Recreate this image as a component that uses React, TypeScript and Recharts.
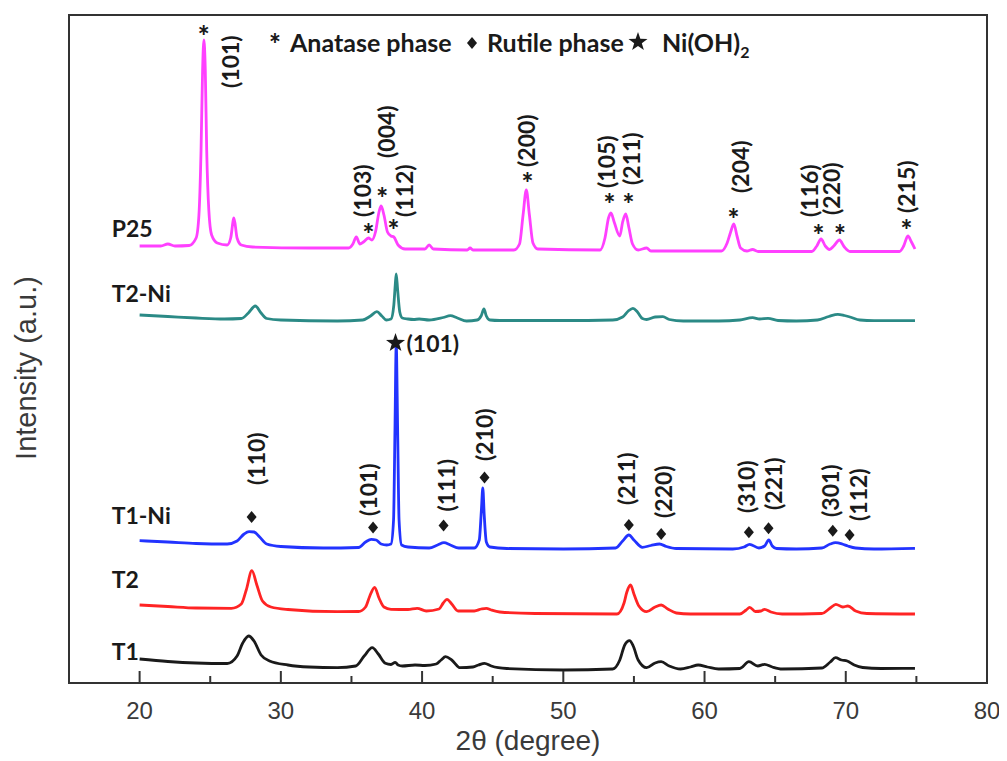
import React from 'react';
import { ComposedChart, Line, Scatter, XAxis, YAxis, ReferenceArea } from 'recharts';

type Pt = [number, number];
type Tag = [number, number, string];

// XRD patterns: [2θ (degree), intensity (a.u., offset per sample)]
const p25: Pt[] = [
  [20.0, 437], [21.5, 437], [22.0, 439], [22.5, 437], [23.5, 437.5], [24.0, 445], [24.2, 468],
  [24.35, 533], [24.46, 613], [24.55, 643], [24.65, 613], [24.75, 533], [24.9, 473], [25.1, 448],
  [25.5, 440], [26.2, 438], [26.45, 445], [26.68, 465], [26.9, 445], [27.2, 438], [28.0, 436],
  [32.0, 435], [34.8, 435], [35.1, 439], [35.34, 446], [35.6, 439], [35.85, 441], [36.2, 445],
  [36.45, 443], [36.7, 451], [36.95, 471], [37.1, 477], [37.3, 468], [37.55, 451], [37.8, 447],
  [38.0, 446], [38.3, 438], [38.8, 434], [40.2, 434], [40.5, 438], [40.8, 434], [43.2, 433],
  [43.4, 435], [43.6, 433], [46.5, 433], [46.9, 439], [47.15, 468], [47.38, 493], [47.6, 468],
  [47.85, 440], [48.2, 434], [52.6, 433], [52.95, 445], [53.2, 465], [53.37, 470], [53.6, 461],
  [54.0, 447], [54.2, 461], [54.42, 469], [54.65, 455], [54.9, 439], [55.3, 433], [55.9, 435],
  [56.2, 432], [61.2, 432], [61.6, 440], [61.85, 451], [62.07, 459], [62.3, 447], [62.55, 435],
  [63.0, 432], [63.4, 433.5], [63.8, 431.5], [67.6, 431.5], [67.95, 437], [68.25, 444],
  [68.55, 437], [68.85, 433.5], [69.15, 437], [69.55, 443], [69.9, 436], [70.3, 431.5],
  [73.8, 431.5], [74.1, 437], [74.4, 447], [74.65, 441], [74.9, 434],
];

const t2Ni: Pt[] = [
  [20, 368], [22, 366.5], [24, 365], [26, 364], [27.2, 364.5], [27.7, 370], [28.19, 377],
  [28.6, 370], [29.0, 364.5], [30, 363], [34, 362], [35.8, 363], [36.35, 367], [36.8, 371.3],
  [37.15, 367], [37.47, 363], [37.8, 364], [38.0, 378], [38.1, 398], [38.17, 409], [38.27, 393],
  [38.42, 371], [38.6, 365], [39.0, 364], [39.4, 363.5], [39.8, 364], [40.5, 363], [41.5, 365.5],
  [42.0, 367.3], [42.5, 365], [43.15, 362], [43.9, 363], [44.18, 367], [44.38, 374], [44.55, 367],
  [44.8, 363], [45.5, 362.5], [50, 362.5], [53.5, 363], [54.2, 366], [54.6, 372], [54.93, 374.7],
  [55.25, 371], [55.6, 364.5], [55.9, 363.5], [56.5, 366], [57.05, 366.3], [57.5, 363.5],
  [58.5, 362], [61, 362], [62.5, 363], [63.4, 365.3], [63.9, 364], [64.5, 364.7], [65.2, 362.5],
  [66.5, 362], [68.0, 363], [68.8, 366.5], [69.44, 368.7], [69.9, 367.5], [70.3, 366],
  [71.0, 363], [72, 362.3], [74.9, 362.3],
];

const t1Ni: Pt[] = [
  [20, 142.3], [22, 141], [24, 139.5], [26.2, 139], [26.9, 142], [27.4, 149], [27.75, 151.3],
  [28.1, 151], [28.5, 146], [29.0, 139], [30, 136.5], [33, 135], [35.5, 135.5], [36.0, 141],
  [36.4, 143.7], [36.75, 143], [37.1, 139], [37.5, 138], [37.8, 139], [37.98, 163], [38.08, 253],
  [38.17, 338], [38.27, 253], [38.37, 163], [38.55, 138], [39.0, 136], [40.5, 135], [41.1, 138],
  [41.55, 140.3], [42.0, 138], [42.6, 135], [43.7, 135], [44.05, 143], [44.2, 173], [44.3, 195],
  [44.4, 168], [44.55, 141], [44.8, 136], [46, 134.5], [50, 134], [53.7, 135], [54.2, 142],
  [54.64, 148], [55.0, 143], [55.6, 135.7], [56.2, 137.5], [56.81, 139], [57.3, 136.5],
  [58, 134.5], [62, 134], [62.8, 136], [63.19, 138.7], [63.85, 135], [64.25, 137], [64.55, 143],
  [64.8, 137], [65.1, 134.5], [66.5, 134], [68.3, 135], [68.9, 139], [69.27, 140.3],
  [69.75, 139], [70.15, 137], [70.7, 135], [72, 134], [74.9, 134.7],
];

const t2: Pt[] = [
  [20, 78], [22, 76.5], [24, 75], [26.5, 74.7], [27.2, 79], [27.55, 93], [27.95, 112.3],
  [28.3, 98], [28.7, 82], [29.3, 76], [30.5, 73.5], [34, 71.3], [35.5, 71.5], [36.0, 76],
  [36.3, 87], [36.64, 95.7], [36.95, 85], [37.3, 76], [37.8, 73.7], [39.0, 73.5], [39.65, 74.7],
  [40.3, 72], [41.2, 74], [41.5, 80], [41.76, 83.7], [42.1, 79], [42.55, 72], [43.7, 72],
  [44.2, 74], [44.55, 74.7], [44.9, 73], [45.5, 71], [48, 69.5], [53.8, 69], [54.3, 80],
  [54.5, 91], [54.76, 98], [55.0, 89], [55.35, 77], [55.9, 71.3], [56.5, 76], [56.93, 78],
  [57.4, 74], [58, 70], [59, 69], [62.5, 69], [62.95, 73], [63.2, 75.7], [63.6, 71.5], [64.0, 72],
  [64.25, 73.7], [64.7, 71], [65.5, 69], [68.3, 69.5], [68.9, 75], [69.3, 78.7], [69.79, 76],
  [70.15, 77], [70.7, 72], [71.5, 69.5], [74.9, 69],
];

const t1: Pt[] = [
  [20, 24], [22, 21.5], [24, 20], [26.2, 19.5], [26.9, 27], [27.3, 40], [27.72, 47], [28.1, 42],
  [28.6, 28], [29.2, 22], [30.5, 18], [32, 16], [34, 15.3], [35.3, 17], [35.9, 27], [36.47, 35.3],
  [36.9, 29], [37.4, 19.7], [37.8, 18.5], [38.1, 20.7], [38.3, 18], [38.6, 17], [39.5, 18],
  [40.2, 17.5], [41.0, 19], [41.35, 23], [41.66, 26.3], [42.1, 23], [42.7, 15.3], [43.6, 16],
  [44.0, 18], [44.42, 19.7], [44.9, 17], [46, 14.5], [50, 13], [53.5, 14], [54.0, 23],
  [54.35, 38], [54.69, 42.3], [54.95, 37], [55.3, 23], [55.9, 15.3], [56.5, 20], [56.93, 21.3],
  [57.5, 17], [58.3, 14], [59.0, 16], [59.55, 18], [60.2, 16], [61, 14], [62.5, 14.5],
  [63.14, 21.3], [63.77, 17], [64.25, 18.7], [64.8, 16], [65.5, 14], [68.3, 15], [68.9, 21],
  [69.27, 25.3], [69.7, 23], [70.1, 22], [70.6, 18], [71.2, 15.5], [72.5, 14.5], [74.9, 14.7],
];

// Phase markers and Miller indices
const anataseMarks: Pt[] = [
  [24.53, 653], [36.21, 455], [37.17, 491], [37.98, 459], [47.47, 506], [53.27, 485],
  [54.62, 485], [62.05, 470], [68.07, 454], [69.59, 454], [74.3, 459],
];
const anataseLabels: Tag[] = [
  [26.37, 595, '(101)'], [35.72, 466, '(103)'], [37.47, 525, '(004)'], [38.69, 466, '(112)'],
  [47.38, 516, '(200)'], [52.99, 495, '(105)'], [54.81, 498, '(211)'], [62.48, 490, '(204)'],
  [67.43, 466, '(116)'], [68.97, 468, '(220)'], [74.28, 470, '(215)'],
];
const rutileMarks: Pt[] = [
  [27.93, 166], [36.53, 155.5], [41.52, 157.5], [44.42, 205.5], [54.64, 158], [56.93, 149],
  [63.14, 150.7], [64.53, 154.7], [69.08, 152.3], [70.27, 148],
];
const rutileLabels: Tag[] = [
  [28.26, 198, '(110)'], [36.16, 167, '(101)'], [41.71, 171.5, '(111)'], [44.39, 222, '(210)'],
  [54.46, 178, '(211)'], [57.05, 165, '(220)'], [62.95, 170, '(310)'], [64.83, 173, '(221)'],
  [68.85, 166, '(301)'], [70.85, 162, '(112)'],
];
const nickelMarks: Tag[] = [[38.12, 340, '(101)']];
const sampleNames: Tag[] = [
  [18.02, 455, 'P25'], [18.02, 390, 'T2-Ni'], [18.02, 168, 'T1-Ni'], [18.02, 104, 'T2'], [18.02, 32, 'T1'],
];

const xTicks = [20, 25, 30, 35, 40, 45, 50, 55, 60, 65, 70, 75, 80];

const pts = (a: Pt[]) => a.map(([x, y]) => ({ x, y }));
const tags = (a: Tag[]) => a.map(([x, y, text]) => ({ x, y, text }));

const BOLD = 'Lato, "DejaVu Sans", sans-serif';
const PLAIN = '"Liberation Sans", Arial, sans-serif';
const INK = '#1a1a1a';
const AXIS = '#333333';
const LINE_W = 2.8;

const starPoints = (cx: number, cy: number, ro: number, ri: number) => {
  const out: string[] = [];
  for (let i = 0; i < 10; i++) {
    const r = i % 2 === 0 ? ro : ri;
    const a = -Math.PI / 2 + (i * Math.PI) / 5;
    out.push(`${cx + r * Math.cos(a)},${cy + r * Math.sin(a)}`);
  }
  return out.join(' ');
};

const diamondPoints = (cx: number, cy: number, w: number, h: number) =>
  `${cx},${cy - h} ${cx + w},${cy} ${cx},${cy + h} ${cx - w},${cy}`;

const AsteriskShape = (p: any) => (
  <text x={p.cx} y={p.cy + 16} textAnchor="middle" fontFamily={BOLD} fontWeight={900} fontSize={28} fill={INK}>
    *
  </text>
);

const DiamondShape = (p: any) => <polygon points={diamondPoints(p.cx, p.cy, 5, 6)} fill={INK} />;

const IndexShape = (p: any) => (
  <text
    x={p.cx}
    y={p.cy}
    transform={`rotate(-90 ${p.cx} ${p.cy})`}
    textAnchor="start"
    dominantBaseline="central"
    fontFamily={BOLD}
    fontWeight={700}
    fontSize={23}
    fill={INK}
  >
    {p.payload.text}
  </text>
);

const NickelShape = (p: any) => (
  <g>
    <polygon points={starPoints(p.cx, p.cy, 10, 4)} fill={INK} />
    <text x={p.cx + 11} y={p.cy} dominantBaseline="central" fontFamily={BOLD} fontWeight={700} fontSize={23} fill={INK}>
      {p.payload.text}
    </text>
  </g>
);

const NameShape = (p: any) => (
  <text x={p.cx} y={p.cy} dominantBaseline="central" fontFamily={BOLD} fontWeight={700} fontSize={23} fill={INK}>
    {p.payload.text}
  </text>
);

const AxisTick = (p: any) => {
  const v = p.payload.value;
  const major = v % 10 === 0;
  return (
    <g>
      <line x1={p.x} x2={p.x} y1={p.y} y2={p.y - (major ? 12 : 7)} stroke={AXIS} strokeWidth={2} />
      {major && (
        <text x={p.x} y={p.y + 27} textAnchor="middle" dominantBaseline="central" fontFamily={PLAIN} fontSize={24} fill="#3a3a3a">
          {v}
        </text>
      )}
    </g>
  );
};

const XTitle = (p: any) => {
  const vb = p.viewBox;
  return (
    <text x={vb.x + vb.width / 2} y={vb.y + 57} textAnchor="middle" dominantBaseline="central" fontFamily={PLAIN} fontSize={28} fill="#3a3a3a">
      2θ (degree)
    </text>
  );
};

const YTitle = (p: any) => {
  const vb = p.viewBox;
  const x = vb.x + 17;
  const y = 360;
  return (
    <text x={x} y={y} transform={`rotate(-90 ${x} ${y})`} textAnchor="middle" fontFamily={PLAIN} fontSize={29} fill="#3a3a3a">
      Intensity (a.u.)
    </text>
  );
};

const PhaseKey = (p: any) => {
  const vb = p.viewBox;
  const x0 = vb.x;
  const base = vb.y + 37;
  return (
    <g fontFamily={BOLD} fontWeight={700} fontSize={25} fill={INK}>
      <text x={x0 + 206} y={base + 2} textAnchor="middle" fontWeight={900} fontSize={28}>*</text>
      <text x={x0 + 221} y={base}>Anatase phase</text>
      <polygon points={diamondPoints(x0 + 403, vb.y + 28, 5, 6)} fill={INK} />
      <text x={x0 + 418} y={base}>Rutile phase</text>
      <polygon points={starPoints(x0 + 569, vb.y + 27, 10, 4)} fill={INK} />
      <text x={x0 + 593} y={base}>
        Ni(OH)
        <tspan fontSize={16} dy={6}>2</tspan>
      </text>
    </g>
  );
};

export default function App() {
  return (
    <div style={{ width: 999, height: 753 }}>
      <ComposedChart width={999} height={753} margin={{ top: 7, right: 20, bottom: 18, left: 11 }}>
        <XAxis
          type="number"
          dataKey="x"
          domain={[15, 80]}
          ticks={xTicks}
          interval={0}
          allowDataOverflow
          height={60}
          axisLine={false}
          tickLine={false}
          tickSize={0}
          tickMargin={0}
          tick={<AxisTick />}
          label={XTitle}
        />
        <YAxis
          type="number"
          dataKey="y"
          domain={[0, 668]}
          allowDataOverflow
          width={50}
          axisLine={false}
          tickLine={false}
          tick={false}
          label={YTitle}
        />
        <ReferenceArea x1={15} x2={80} y1={0} y2={668} fill="none" stroke={AXIS} strokeWidth={2} fillOpacity={0} label={PhaseKey} />
        <Line data={pts(t1)} dataKey="y" type="monotone" stroke="#1a1a1a" strokeWidth={LINE_W} dot={false} isAnimationActive={false} />
        <Line data={pts(t2)} dataKey="y" type="monotone" stroke="#ff2424" strokeWidth={LINE_W} dot={false} isAnimationActive={false} />
        <Line data={pts(t1Ni)} dataKey="y" type="monotone" stroke="#2233ff" strokeWidth={LINE_W} dot={false} isAnimationActive={false} />
        <Line data={pts(t2Ni)} dataKey="y" type="monotone" stroke="#2b8a86" strokeWidth={LINE_W} dot={false} isAnimationActive={false} />
        <Line data={pts(p25)} dataKey="y" type="monotone" stroke="#ff40ff" strokeWidth={LINE_W} dot={false} isAnimationActive={false} />
        <Scatter data={pts(anataseMarks)} dataKey="y" shape={AsteriskShape} isAnimationActive={false} />
        <Scatter data={tags(anataseLabels)} dataKey="y" shape={IndexShape} isAnimationActive={false} />
        <Scatter data={pts(rutileMarks)} dataKey="y" shape={DiamondShape} isAnimationActive={false} />
        <Scatter data={tags(rutileLabels)} dataKey="y" shape={IndexShape} isAnimationActive={false} />
        <Scatter data={tags(nickelMarks)} dataKey="y" shape={NickelShape} isAnimationActive={false} />
        <Scatter data={tags(sampleNames)} dataKey="y" shape={NameShape} isAnimationActive={false} />
      </ComposedChart>
    </div>
  );
}
